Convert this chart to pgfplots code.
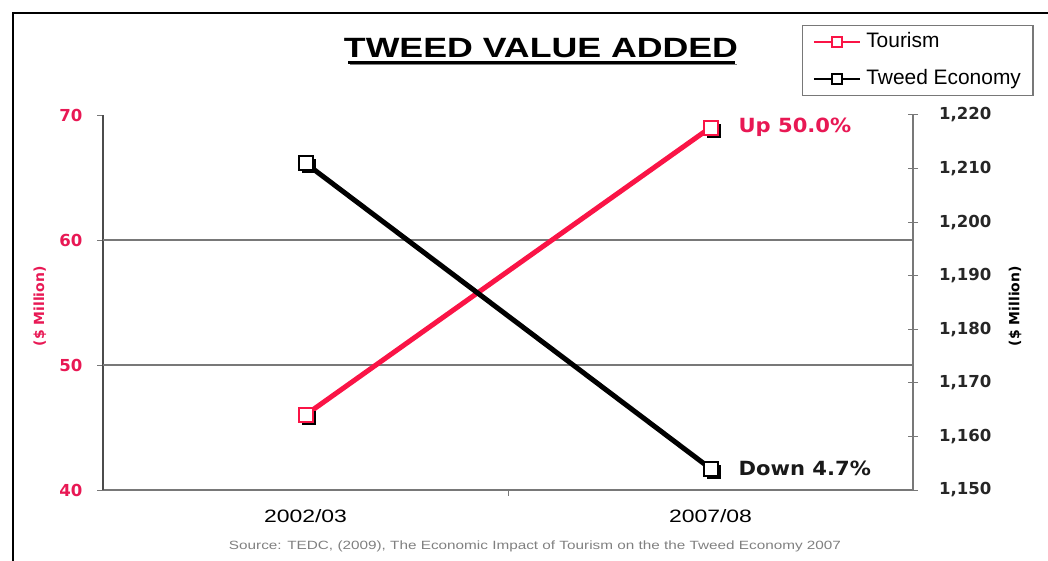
\documentclass[border=0pt]{standalone}
\usepackage{fontspec}
\setmainfont{Liberation Sans}
\newfontfamily\wide{Liberation Sans}[FakeStretch=1.28]
\newfontfamily\dv{DejaVu Sans}
\newfontfamily\dvw{DejaVu Sans}[FakeStretch=1.08]
\usepackage{pgfplots}
\pgfplotsset{compat=1.18}
\definecolor{tred}{RGB}{250,20,70}
\definecolor{lred}{RGB}{232,24,84}
\definecolor{axg}{RGB}{120,120,120}
\pgfdeclareplotmark{shsq}{%
  \pgfpathrectangle{\pgfpoint{-\pgfplotmarksize+1.5bp}{-\pgfplotmarksize-1.5bp}}{\pgfpoint{2\pgfplotmarksize}{2\pgfplotmarksize}}%
  \pgfsetfillcolor{black}\pgfusepath{fill}%
  \pgfpathrectangle{\pgfpoint{-\pgfplotmarksize}{-\pgfplotmarksize}}{\pgfpoint{2\pgfplotmarksize}{2\pgfplotmarksize}}%
  \pgfsetfillcolor{white}\pgfusepath{fill,stroke}%
}
\pgfplotsset{
  common/.style={scale only axis, width=405bp, height=187.5bp,
    at={(51.5bp,35bp)}, anchor=south west, xmin=-0.5, xmax=1.5, clip=false,
    axis line style={axg, line width=0.6bp},
    major tick style={axg, line width=0.5bp},
    /pgf/number format/assume math mode=true},
}
\begin{document}
\begin{tikzpicture}[x=1bp,y=1bp]
\useasboundingbox (0,0) rectangle (524,280);
\begin{scope}
\clip (0,0) rectangle (524,280);
\draw[line width=1.3bp] (6.5,-20) rectangle (560,273.5);
\end{scope}

\begin{axis}[common,
  ymin=40, ymax=70,
  axis y line*=left, axis x line*=bottom,
  y axis line style={black!70, line width=0.6bp},
  xtick={0.5}, xticklabels={},
  tick align=outside, major tick length=2.8bp,
  extra x ticks={0,1}, extra x tick labels={2002/03,2007/08},
  extra x tick style={major tick length=0pt,
    tick label style={font=\wide\fontsize{9}{10}\selectfont, yshift=-6bp}},
  ytick={40,50,60,70},
  extra y ticks={50,60}, extra y tick labels={},
  extra y tick style={grid=major, major tick length=0pt},
  grid style={axg, line width=0.6bp},
  yticklabel style={font=\dv\bfseries\fontsize{8.3}{9}\selectfont, text=lred, xshift=-4bp},
  ylabel={(\$ Million)},
  ylabel style={at={(axis description cs:-0.078,0.49)}, anchor=center,
    font=\dv\bfseries\fontsize{7}{8}\selectfont, text=lred},
]
\addplot[tred, line width=2.5bp, mark=shsq, mark size=3.5bp,
  mark options={draw=tred, line width=1bp}] coordinates {(0,46) (1,69)};
\node[anchor=west, xshift=10.5bp, text=lred, font=\dvw\bfseries\fontsize{9.8}{10}\selectfont]
  at (axis cs:1,69) {Up 50.0\%};
\end{axis}

\begin{axis}[common,
  ymin=1150, ymax=1220,
  axis y line*=right, axis x line=none,
  tick align=center, major tick length=5bp,
  ytick={1150,1160,...,1220},
  yticklabel style={font=\dv\bfseries\fontsize{8.3}{9}\selectfont, text=black!85, xshift=7bp},
  ylabel={(\$ Million)},
  ylabel style={at={(axis description cs:1.126,0.49)}, anchor=center, rotate=0,
    font=\dv\bfseries\fontsize{7}{8}\selectfont},
  legend style={at={(0.863,1.24)}, anchor=north west, draw=axg, line width=0.6bp,
    font=\fontsize{10.5}{12}\selectfont, inner xsep=5bp, inner ysep=2.5bp,
    row sep=7bp, fill=white,
    nodes={inner sep=1bp, text height=7.5bp, text depth=2bp},
    /tikz/every odd column/.append style={column sep=1.5bp}},
  legend cell align=left,
  legend image code/.code={%
    \draw[#1, line width=1.3bp, mark=none] (0bp,0bp) -- (23bp,0bp);
    \draw[#1, line width=0.6bp, fill=white, mark=none] (9bp,-2.5bp) rectangle (14bp,2.5bp);},
]
\addlegendimage{tred}
\addlegendentry{Tourism}
\addplot[black, line width=2.5bp, mark=shsq, mark size=3.5bp,
  mark options={draw=black, line width=1bp}] coordinates {(0,1211) (1,1154)};
\addlegendentry{Tweed Economy}
\node[anchor=west, xshift=10.5bp, text=black!90, font=\dvw\bfseries\fontsize{9.8}{10}\selectfont]
  at (axis cs:1,1154) {Down 4.7\%};
\end{axis}

\node[anchor=base, font=\wide\bfseries\fontsize{14}{16}\selectfont] at (270.5,251.5) {TWEED VALUE ADDED};
\draw[line width=1.2bp] (174,248.8) -- (367.5,248.8);
\draw[line width=0.6bp, gray] (175,247.6) -- (368.5,247.6);
\node[anchor=base, font=\wide\fontsize{6}{7}\selectfont, text=gray] at (267.5,5.5)
  {Source: TEDC, (2009), The Economic Impact of Tourism on the the Tweed Economy 2007};
\end{tikzpicture}
\end{document}
